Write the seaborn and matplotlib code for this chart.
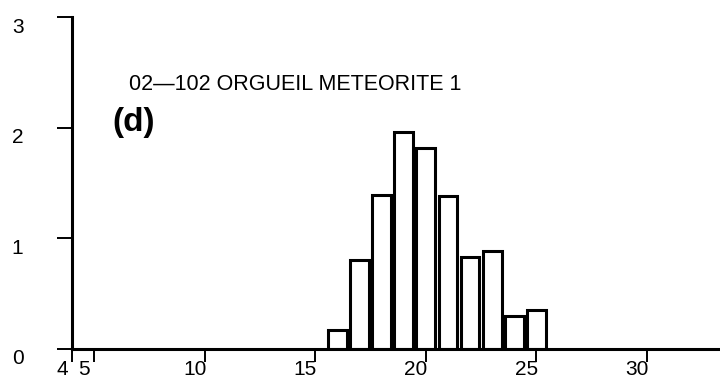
import matplotlib
matplotlib.use("Agg")
import matplotlib.pyplot as plt
from matplotlib.transforms import ScaledTranslation
import seaborn as sns
import pandas as pd

# Data
bin_centers = [16, 17, 18, 19, 20, 21, 22, 23, 24, 25]
counts = [0.17, 0.80, 1.39, 1.96, 1.82, 1.38, 0.83, 0.89, 0.30, 0.35]
x_ticks = [4, 5, 10, 15, 20, 25, 30]
x_tick_labels = ["4", "5", "10", "15", "20", "25", "30"]
y_ticks = [0, 1, 2, 3]
y_tick_labels = ["0", "1", "2", "3"]
title_text = "02\u2014102 ORGUEIL METEORITE 1"
panel_text = "(d)"

sns.set_theme(style="white")
plt.rcParams["font.family"] = ["Liberation Sans", "DejaVu Sans"]

df = pd.DataFrame({"size": bin_centers, "count": counts})

fig = plt.figure(figsize=(7.2, 3.86), dpi=100)
ax = fig.add_axes([0.1, 0.0959, 0.9, 0.860])

sns.barplot(data=df, x="size", y="count", native_scale=True, width=0.85,
            color="white", edgecolor="black", linewidth=2.2, saturation=1,
            ax=ax)

ax.set_xlim(4, 33.3)
ax.set_ylim(0, 3)
ax.set_xticks(x_ticks)
ax.set_xticklabels(x_tick_labels)
ax.set_yticks(y_ticks)
ax.set_yticklabels(y_tick_labels)
ax.set_xlabel("")
ax.set_ylabel("")

for s in ["top", "right"]:
    ax.spines[s].set_visible(False)
for s in ["left", "bottom"]:
    ax.spines[s].set_linewidth(2.2)
    ax.spines[s].set_color("black")

ax.tick_params(axis="x", direction="out", length=9, width=1.4, pad=-1,
               labelsize=15, colors="black", bottom=True)
ax.tick_params(axis="y", direction="out", length=11, width=1.4, pad=24,
               labelsize=15, colors="black", left=True)

for lab in ax.get_xticklabels():
    lab.set_transform(lab.get_transform() + ScaledTranslation(-0.10, 0, fig.dpi_scale_trans))
for lab in ax.get_yticklabels():
    lab.set_transform(lab.get_transform() + ScaledTranslation(0, -0.08, fig.dpi_scale_trans))

fig.text(129 / 720, 1 - 85 / 386, title_text, fontsize=15.5, color="black",
         ha="left", va="center")
fig.text(112 / 720, 1 - 123 / 386, panel_text, fontsize=24, fontweight="bold",
         color="black", ha="left", va="center")

fig.savefig("out.png", dpi=100)
